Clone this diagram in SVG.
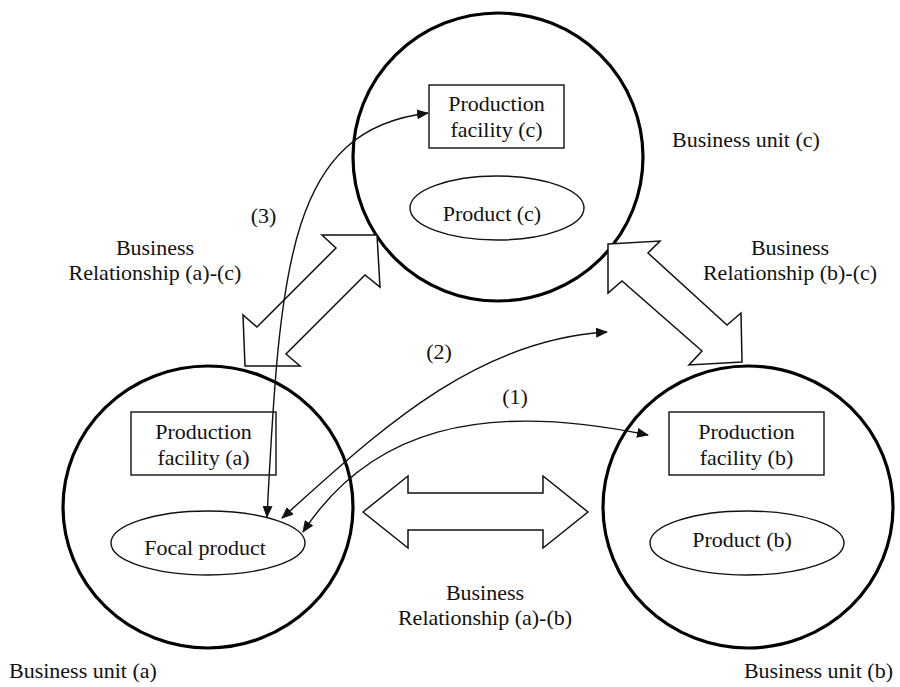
<svg xmlns="http://www.w3.org/2000/svg" width="900" height="687" viewBox="0 0 900 687">
  <style>
    text { font-family: 'Liberation Serif', 'Times New Roman', 'DejaVu Serif', serif; font-size: 22px; fill: #111; }
    .c { text-anchor: middle; }
    .unit { fill: none; stroke: #000; stroke-width: 3.2; }
    .box { fill: none; stroke: #111; stroke-width: 1.4; }
    .big { fill: #fff; stroke: #111; stroke-width: 1.5; stroke-linejoin: miter; }
    .flow { fill: none; stroke: #111; stroke-width: 1.4; marker-start: url(#ah); marker-end: url(#ah); }
  </style>
  <defs>
    <marker id="ah" viewBox="0 0 12 10" refX="11" refY="5" markerWidth="12" markerHeight="10" markerUnits="userSpaceOnUse" orient="auto-start-reverse">
      <path d="M0,0 L12,5 L0,10 Z" fill="#111"/>
    </marker>
  </defs>
  <rect width="900" height="687" fill="#fff"/>

  <g id="unit-c">
    <ellipse class="unit" cx="498" cy="157" rx="145" ry="144"/>
    <text x="672" y="147" font-family="Liberation Serif, serif">Business unit (c)</text>
  </g>
  <g id="facility-c">
    <rect class="box" x="429" y="85" width="135" height="63"/>
    <text class="c" x="496.5" y="111">Production</text>
    <text class="c" x="496.5" y="137">facility (c)</text>
  </g>
  <g id="product-c">
    <ellipse class="box" cx="497" cy="208" rx="87" ry="32"/>
    <text class="c" x="492" y="221">Product (c)</text>
  </g>

  <g id="unit-a">
    <ellipse class="unit" cx="208" cy="507" rx="145" ry="141"/>
    <text x="9" y="678">Business unit (a)</text>
  </g>
  <g id="facility-a">
    <rect class="box" x="131" y="412" width="145" height="63"/>
    <text class="c" x="203.5" y="439">Production</text>
    <text class="c" x="203.5" y="465">facility (a)</text>
  </g>
  <g id="focal-product">
    <ellipse class="box" cx="208" cy="543" rx="97" ry="32"/>
    <text class="c" x="205" y="555">Focal product</text>
  </g>

  <g id="unit-b">
    <ellipse class="unit" cx="748" cy="507" rx="145" ry="141"/>
    <text x="893" y="678" text-anchor="end">Business unit (b)</text>
  </g>
  <g id="facility-b">
    <rect class="box" x="669" y="412" width="155" height="63"/>
    <text class="c" x="746.5" y="439">Production</text>
    <text class="c" x="746.5" y="465">facility (b)</text>
  </g>
  <g id="product-b">
    <ellipse class="box" cx="747" cy="543" rx="97" ry="32"/>
    <text class="c" x="742" y="547">Product (b)</text>
  </g>

  <g id="relationship-ac">
    <polygon class="big" points="322,235 377,235 380,287 365,275 286,354 300,366 245,366 243,315 257,327 336,248"/>
    <text class="c" x="155" y="255">Business</text>
    <text class="c" x="155" y="280">Relationship (a)-(c)</text>
  </g>
  <g id="relationship-bc">
    <polygon class="big" points="608,244 660,241 648,253 727,325 741,313 742,362 689,365 702,351 622,281 608,293"/>
    <text class="c" x="790" y="255">Business</text>
    <text class="c" x="790" y="280">Relationship (b)-(c)</text>
  </g>
  <g id="relationship-ab">
    <polygon class="big" points="363,512 408,476 408,493 543,493 543,476 588,512 543,548 543,530 408,530 408,548"/>
    <text class="c" x="485" y="600">Business</text>
    <text class="c" x="485" y="625">Relationship (a)-(b)</text>
  </g>

  <g id="connectors">
    <path class="flow" d="M267,517 C280,260 290,130 428,113"/>
    <path class="flow" d="M282,518 C370,440 470,340 607,332"/>
    <path class="flow" d="M303,532 C370,430 480,400 648,435"/>
    <text class="c" x="263.5" y="223">(3)</text>
    <text class="c" x="439" y="359">(2)</text>
    <text class="c" x="515" y="404">(1)</text>
  </g>
</svg>
